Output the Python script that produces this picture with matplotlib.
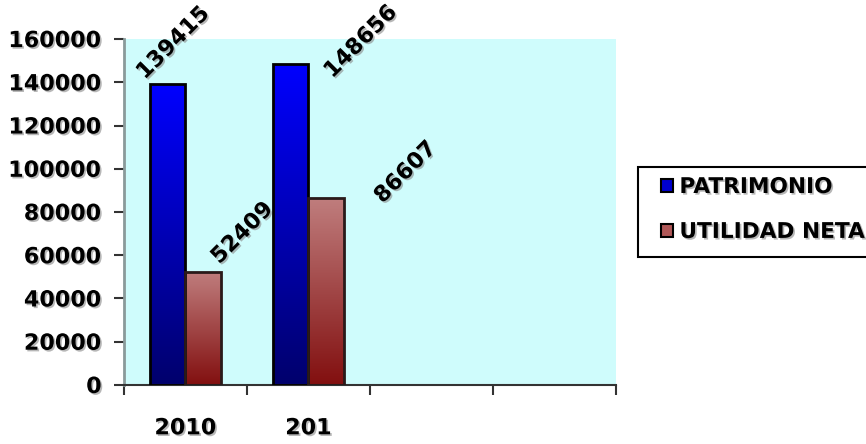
import numpy as np
import matplotlib
matplotlib.use("Agg")
import matplotlib.pyplot as plt
import matplotlib.patheffects as pe
from matplotlib.colors import LinearSegmentedColormap
from matplotlib.patches import Patch, Rectangle

categories = ["2010", "201", "", ""]
patrimonio = [139415, 148656]
utilidad_neta = [52409, 86607]
series_names = ["PATRIMONIO", "UTILIDAD NETA"]
y_ticks = [0, 20000, 40000, 60000, 80000, 100000, 120000, 140000, 160000]

# label offsets in points (x, y) for each bar, per series
label_offsets = [[(-14.5, 0.5), (32, -13)], [(13.5, 3), (42.5, -6.5)]]

plt.rcParams["font.family"] = ["DejaVu Sans"]
plt.rcParams["font.weight"] = "bold"

shadow = [pe.withSimplePatchShadow(offset=(1.2, -1.2), shadow_rgbFace="#888888", alpha=0.6)]

blue_cmap = LinearSegmentedColormap.from_list("blue", ["#00006c", "#0000ff"])
red_cmap = LinearSegmentedColormap.from_list("red", ["#820f0f", "#c07e7e"])
legend_colors = ["#0000d0", "#b05858"]
edge_colors = ["black", "#2a1a1a"]

fig = plt.figure(figsize=(8.66, 4.44), dpi=100)
ax = fig.add_axes([0.1432, 0.133, 0.568, 0.779])
ax.set_facecolor("#cffcfc")

x = np.arange(len(categories))
width = 0.29
grad = np.linspace(0, 1, 256).reshape(-1, 1)
fs = 16

series = [patrimonio, utilidad_neta]
cmaps = [blue_cmap, red_cmap]
shifts = [-width / 2, width / 2]
for values, cmap, shift, offs, ec in zip(series, cmaps, shifts, label_offsets, edge_colors):
    for i, v in enumerate(values):
        left = x[i] + shift - width / 2
        rect = Rectangle((left, 0), width, v, facecolor="none",
                         edgecolor=ec, linewidth=2, zorder=3)
        ax.add_patch(rect)
        img = ax.imshow(grad, cmap=cmap, origin="lower", aspect="auto",
                        extent=(left, left + width, 0, v), zorder=2)
        img.set_clip_path(rect)
        ax.annotate(str(v), xy=(x[i] + shift, v), xytext=offs[i],
                    textcoords="offset points", rotation=45,
                    rotation_mode="anchor", ha="left", va="bottom",
                    fontsize=fs, fontweight="bold", color="black",
                    path_effects=shadow, annotation_clip=False)

ax.set_xlim(-0.5, len(categories) - 0.5)
ax.set_ylim(0, 160000)
ax.set_yticks(y_ticks)
ax.set_yticklabels([str(t) for t in y_ticks])
ax.set_xticks(x)
ax.set_xticklabels(categories)
ax.set_xticks(np.arange(-0.5, len(categories)), minor=True)

ax.tick_params(axis="x", which="major", length=0, pad=24, labelsize=fs)
ax.tick_params(axis="x", which="minor", length=7, width=1.5, color="#333333")
ax.tick_params(axis="y", length=7, width=1.5, color="#333333", pad=9, labelsize=fs)
for lbl in ax.get_xticklabels() + ax.get_yticklabels():
    lbl.set_fontweight("bold")
    lbl.set_path_effects(shadow)

ax.spines["top"].set_visible(False)
ax.spines["right"].set_visible(False)
ax.spines["left"].set_color("#8a9a9a")
ax.spines["left"].set_linewidth(2)
ax.spines["bottom"].set_color("#333333")
ax.spines["bottom"].set_linewidth(1.5)

# legend frame runs off the right edge, as in the original
frame = Rectangle((638 / 866, 1 - 257 / 444), 0.3, 90 / 444, transform=fig.transFigure,
                  facecolor="white", edgecolor="black", linewidth=1.5)
fig.patches.append(frame)

handles = [Patch(facecolor=c, edgecolor="black", linewidth=1.5) for c in legend_colors]
leg = fig.legend(handles, series_names, loc="upper left",
                 bbox_to_anchor=(661 / 866, 1 - 177 / 444),
                 frameon=False, prop={"size": 15.6, "weight": "bold"},
                 handlelength=0.55, handleheight=0.55, handletextpad=0.3,
                 labelspacing=1.15, borderpad=0, borderaxespad=0)
for t in leg.get_texts():
    t.set_path_effects(shadow)

fig.savefig("out.png", dpi=100)
